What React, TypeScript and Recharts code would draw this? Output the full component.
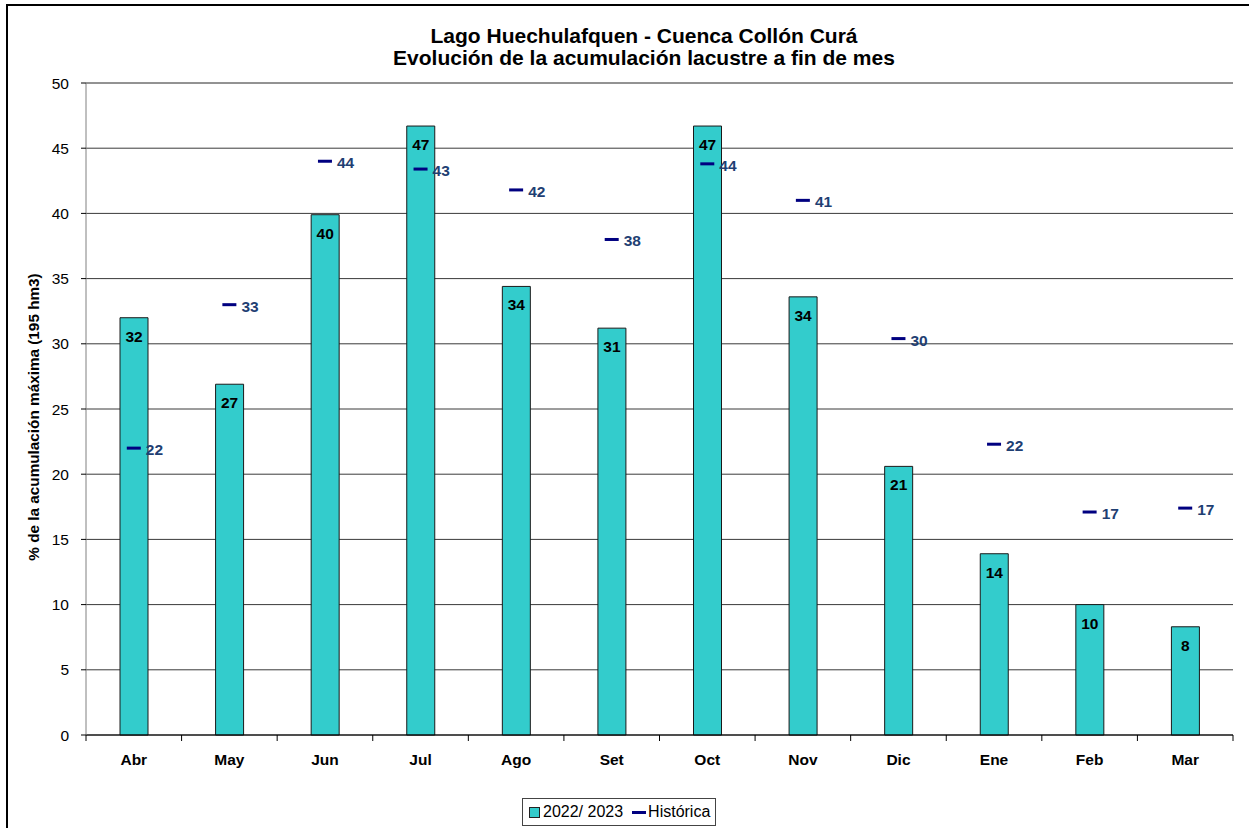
import { ComposedChart, Bar, Line, XAxis, YAxis, CartesianGrid, LabelList, ReferenceLine } from "recharts";

const months = ["Abr", "May", "Jun", "Jul", "Ago", "Set", "Oct", "Nov", "Dic", "Ene", "Feb", "Mar"];
const actual = [32.0, 26.9, 39.9, 46.7, 34.4, 31.2, 46.7, 33.6, 20.6, 13.9, 10.0, 8.3];
const historica = [22.0, 33.0, 44.0, 43.4, 41.8, 38.0, 43.8, 41.0, 30.4, 22.3, 17.1, 17.4];
const yTicks = [0, 5, 10, 15, 20, 25, 30, 35, 40, 45, 50];

const data = months.map((m, i) => ({ month: m, actual: actual[i], hist: historica[i] }));

const W = 1249;
const H = 828;
const FONT = "'Liberation Sans', Arial, sans-serif";
const half = (W - 86 - 16) / months.length / 2;

function MonthTick(props: any) {
  const { x, y, payload, index } = props;
  return (
    <g>
      <line x1={x - half} x2={x - half} y1={y} y2={y + 6} stroke="#000" />
      {index === months.length - 1 && (
        <line x1={x + half} x2={x + half} y1={y} y2={y + 6} stroke="#000" />
      )}
      <text x={x} y={y + 30} textAnchor="middle" fontSize={15.5} fontWeight="bold" fill="#000">
        {payload.value}
      </text>
    </g>
  );
}

function Dash(props: any) {
  const { cx, cy } = props;
  if (cx == null || cy == null) return null;
  return <rect x={cx - 7} y={cy - 1.5} width={14} height={3} fill="#000080" />;
}

function BarValue(props: any) {
  const { x, y, width, value } = props;
  return (
    <text x={x + width / 2} y={y + 24} textAnchor="middle" fontSize={15.5} fontWeight="bold" fill="#000">
      {Math.round(value)}
    </text>
  );
}

function HistValue(props: any) {
  const { x, y, value } = props;
  return (
    <text x={x + 12} y={y + 7} textAnchor="start" fontSize={15.5} fontWeight="bold" fill="#1F3F73">
      {Math.round(value)}
    </text>
  );
}

export default function App() {
  return (
    <div
      style={{
        position: "absolute",
        left: 0,
        top: 0,
        width: W,
        height: H,
        overflow: "hidden",
        background: "#fff",
        fontFamily: FONT,
      }}
    >
      <div
        style={{
          position: "absolute",
          left: 6,
          top: 4,
          width: W,
          height: H,
          borderLeft: "2px solid #000",
          borderTop: "2px solid #000",
        }}
      />
      <div
        style={{
          position: "absolute",
          left: 0,
          top: 25,
          width: 1288,
          textAlign: "center",
          fontSize: 21,
          lineHeight: "22px",
          fontWeight: "bold",
          color: "#000",
        }}
      >
        <div>Lago Huechulafquen - Cuenca Collón Curá</div>
        <div>Evolución de la acumulación lacustre a fin de mes</div>
      </div>
      <div style={{ position: "absolute", left: 0, top: 0 }}>
        <ComposedChart width={W} height={H} data={data} margin={{ top: 83, right: 16, left: 0, bottom: 0 }}>
          <CartesianGrid vertical={false} stroke="#3a3a3a" />
          <ReferenceLine y={50} stroke="#888" />
          <XAxis
            dataKey="month"
            height={93}
            stroke="#000"
            tickLine={false}
            tickSize={0}
            tickMargin={0}
            interval={0}
            tick={<MonthTick />}
          />
          <YAxis
            domain={[0, 50]}
            ticks={yTicks}
            width={86}
            stroke="#808080"
            tickSize={5}
            tickMargin={12}
            tick={{ fill: "#000", fontSize: 15.5 }}
            tickLine={{ stroke: "#000" }}
          />
          <YAxis yAxisId="right" orientation="right" width={0} tick={false} tickLine={false} stroke="#909090" />
          <Bar dataKey="actual" fill="#33CCCC" stroke="#1a1a1a" strokeWidth={1} barSize={28} isAnimationActive={false}>
            <LabelList dataKey="actual" content={<BarValue />} />
          </Bar>
          <Line
            dataKey="hist"
            stroke="none"
            dot={<Dash />}
            activeDot={false}
            isAnimationActive={false}
          >
            <LabelList dataKey="hist" content={<HistValue />} />
          </Line>
        </ComposedChart>
      </div>
      <svg width={60} height={H} style={{ position: "absolute", left: 0, top: 0 }}>
        <text
          transform="translate(39,417) rotate(-90)"
          textAnchor="middle"
          fontSize={15.3}
          fontWeight="bold"
          fill="#000"
        >
          % de la acumulación máxima (195 hm3)
        </text>
      </svg>
      <div
        style={{
          position: "absolute",
          left: 522,
          top: 798,
          width: 192,
          height: 26,
          border: "1px solid #444",
          display: "flex",
          alignItems: "center",
          fontSize: 16,
          color: "#000",
        }}
      >
        <span
          style={{
            display: "inline-block",
            width: 9,
            height: 9,
            background: "#33CCCC",
            border: "1px solid #222",
            marginLeft: 6,
            marginRight: 3,
          }}
        />
        <span>2022/ 2023</span>
        <span style={{ display: "inline-block", width: 14, height: 3, background: "#000080", marginLeft: 9, marginRight: 2 }} />
        <span>Histórica</span>
      </div>
    </div>
  );
}
